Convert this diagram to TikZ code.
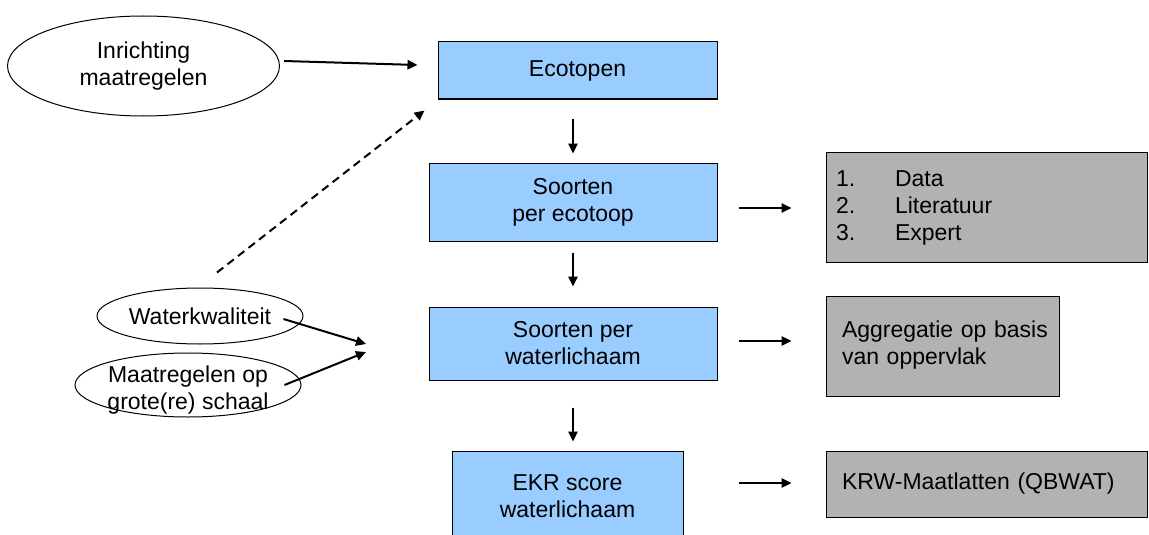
\documentclass[tikz,border=0pt]{standalone}
\usepackage{fontspec}
\setmainfont{Liberation Sans}
\usetikzlibrary{shapes.geometric,arrows.meta,calc}
\definecolor{skyblue}{RGB}{153,204,255}
\definecolor{boxgrey}{RGB}{178,178,178}
\newcommand{\dfont}{\fontsize{17.25}{20.25}\selectfont\hyphenpenalty=10000}
\begin{document}
\begin{tikzpicture}[x=0.75pt,y=-0.75pt]
        \tikzset{
            blk/.style={rectangle, draw=black, line width=0.75pt, fill=skyblue, align=center, font=\dfont},
            gry/.style={rectangle, draw=black, line width=0.75pt, fill=boxgrey, align=left, font=\dfont},
            ell/.style={ellipse, draw=black, line width=0.75pt, inner sep=0pt, align=center, font=\dfont},
            arr/.style={-{Triangle[length=7.5pt,width=7pt]}, line width=1.5pt},
            darr/.style={arr, dash pattern=on 6pt off 4pt}
            }
            \useasboundingbox (0,0) rectangle (1149,535);

            \node[blk, minimum width=209.25pt, minimum height=42.75pt] (eco) at (577.5,70.5) {Ecotopen};
            \node[blk, minimum width=216pt, minimum height=58.5pt] (spe) at (573,202) {Soorten\\per ecotoop};
            \node[blk, minimum width=216pt, minimum height=54.75pt] (swl) at (573,343.5) {Soorten per\\waterlichaam};
            \node[blk, minimum width=173.25pt, minimum height=67.5pt] (ekr) at (567.5,496) {EKR score\\waterlichaam};

            \node[gry, inner xsep=7.5pt, text width=225.75pt, minimum height=82.5pt] (lst) at (986.5,207.5)
                {\makebox[44.25pt][l]{1.}Data\\\makebox[44.25pt][l]{2.}Literatuur\\\makebox[44.25pt][l]{3.}Expert};
            \node[gry, inner xsep=3pt, text width=168.75pt, minimum height=75pt] (agg) at (942.5,346)
                {\begin{tabular}{@{\hspace{9pt}}l@{}}Aggregatie op basis\\van oppervlak\end{tabular}};
            \node[gry, inner xsep=12pt, text width=216.75pt, minimum height=49.5pt] (krw) at (986.5,484) {KRW-Maatlatten (QBWAT)};

            \node[ell, minimum width=204pt, minimum height=75pt] (inr) at (143.5,66) {Inrichting\\maatregelen};
            \node[ell, minimum width=154.5pt, minimum height=42pt] (wk) at (200,316) {Waterkwaliteit};
            \node[ell, minimum width=169.5pt, minimum height=48pt,
                  label={[font=\dfont, align=center, yshift=-4pt]center:Maatregelen op\\grote(re) schaal}] (mg) at (188,385) {};
            \coordinate (jn) at (366,348);

            \draw[arr] ($(inr.east)+(4,-5)$) -- ($(eco.west)+(-20,-5.5)$);
            \draw[arr] ($(eco.south)+(-4.5,19)$) -- ($(spe.north)+(0,-9)$);
            \draw[arr] ($(spe.east)+(21,6)$) -- ($(lst.west)+(-34,0.5)$);
            \draw[arr] ($(spe.south)+(0,11)$) -- ($(swl.north)+(0,-20)$);
            \draw[arr] ($(swl.east)+(21,-2.5)$) -- ($(agg.west)+(-34,-5)$);
            \draw[arr] ($(swl.south)+(0,27)$) -- ($(ekr.north)+(5.5,-9)$);
            \draw[arr] ($(ekr.east)+(55,-13)$) -- ($(krw.west)+(-34,-1)$);
            \draw[arr] ($(wk.east)+(-20,3)$) -- ($(jn)+(0,-4)$);
            \draw[arr] ($(mg.east)+(-17,0)$) -- ($(jn)+(0,4)$);
            \draw[darr] ($(wk.north)+(17,-15)$) -- ($(eco.south west)+(-13,11)$);
        \end{tikzpicture}
\end{document}
